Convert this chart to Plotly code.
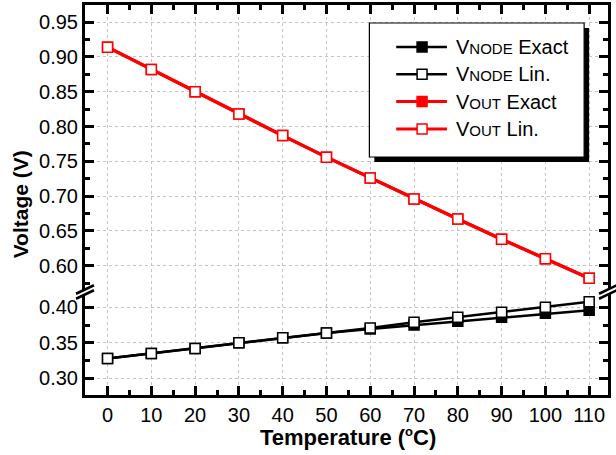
import plotly.graph_objects as go

# ---------------- data ----------------
temps = [0, 10, 20, 30, 40, 50, 60, 70, 80, 90, 100, 110]
vnode_exact = [0.328, 0.335, 0.342, 0.350, 0.357, 0.364, 0.3695, 0.375, 0.3805, 0.386, 0.3915, 0.396]
vnode_lin = [0.328, 0.335, 0.342, 0.350, 0.357, 0.364, 0.371, 0.379, 0.386, 0.393, 0.400, 0.408]
vout_exact = [0.914, 0.882, 0.850, 0.818, 0.787, 0.756, 0.726, 0.696, 0.667, 0.638, 0.610, 0.582]
vout_lin = [0.914, 0.882, 0.850, 0.818, 0.787, 0.756, 0.726, 0.696, 0.667, 0.638, 0.610, 0.582]
x_ticks = [0, 10, 20, 30, 40, 50, 60, 70, 80, 90, 100, 110]
series_names = ["V|NODE| Exact", "V|NODE| Lin.", "V|OUT| Exact", "V|OUT| Lin."]
series_colors = ["black", "black", "#ff0000", "#ff0000"]
series_filled = [True, False, True, False]

# ---------------- geometry (pixels) ----------------
W, H = 616, 455
L, R, T, B = 85, 611, 5, 395
BREAK = 292
pw, ph = R - L, B - T


def px(x):
    return (x - L) / pw


def py(y):
    return (B - y) / ph


split = py(BREAK)


def fmt_name(n):
    a, b, c = n.split("|")
    return a + "<span style='font-size:15px'>" + b + "</span>" + c


fig = go.Figure()
series = [(vnode_exact, "x", "y"), (vnode_lin, "x", "y"),
          (vout_exact, "x2", "y2"), (vout_lin, "x2", "y2")]
for i, (vals, xa, ya) in enumerate(series):
    col = series_colors[i]
    fig.add_trace(go.Scatter(
        x=temps, y=vals, name=fmt_name(series_names[i]), xaxis=xa, yaxis=ya,
        mode="lines+markers", showlegend=False,
        line=dict(color=col, width=3.2 if col != "black" else 2.5),
        marker=dict(symbol="square", size=10,
                    color=col if series_filled[i] else "white",
                    line=dict(color=col, width=1.5))))

tickfont = dict(family="Liberation Sans, Arial", size=20, color="black")
grid = dict(showgrid=True, gridcolor="#c4c4c4", griddash="dot", gridwidth=1)
xrange = [-5.15, 114.3]
common_x = dict(range=xrange, tickmode="array", tickvals=x_ticks, ticks="inside",
                ticklen=9, tickwidth=3, tickcolor="black", showline=True, linewidth=3,
                linecolor="black", zeroline=False, tickfont=tickfont,
                minor=dict(dtick=5, tick0=0, ticks="inside", ticklen=5, tickwidth=3,
                           tickcolor="black", showgrid=False), **grid)
common_y = dict(dtick=0.05, tick0=0, tickformat=".2f", ticks="inside", ticklen=9,
                tickwidth=3, tickcolor="black", showline=True, linewidth=3,
                linecolor="black", mirror="ticks", zeroline=False, tickfont=tickfont,
                minor=dict(dtick=0.025, tick0=0, ticks="inside", ticklen=5, tickwidth=3,
                           tickcolor="black", showgrid=False), **grid)

fig.update_layout(
    width=W, height=H,
    margin=dict(l=L, r=W - R, t=T, b=H - B),
    paper_bgcolor="white", plot_bgcolor="white",
    xaxis=dict(anchor="y", domain=[0, 1], **common_x),
    xaxis2=dict(anchor="y2", domain=[0, 1], matches="x", side="top",
                showticklabels=False, **common_x),
    yaxis=dict(anchor="x", domain=[0, split], range=[0.2765, 0.4216], **common_y),
    yaxis2=dict(anchor="x2", domain=[split, 1], range=[0.5622, 0.9746], **common_y),
    showlegend=False,
)

shapes = []


def brk(cx, cy):
    out = []
    pts = [(cx - 9, cy + 2.5 + 4.25), (cx + 9, cy + 2.5 - 4.25),
           (cx + 9, cy - 2.5 - 4.25), (cx - 9, cy - 2.5 + 4.25)]
    path = "M " + " L ".join(f"{px(a)},{py(b)}" for a, b in pts) + " Z"
    out.append(dict(type="path", xref="paper", yref="paper", path=path,
                    fillcolor="white", line=dict(width=0), layer="above"))
    for off in (-2.5, 2.5):
        out.append(dict(type="line", xref="paper", yref="paper", layer="above",
                        x0=px(cx - 9), y0=py(cy + off + 4.25),
                        x1=px(cx + 9), y1=py(cy + off - 4.25),
                        line=dict(color="black", width=2.5)))
    return out


shapes += brk(L, BREAK)
shapes += brk(R, BREAK)

# ---- legend box (shadow + box) ----
LX0, LY0, LX1, LY1 = 371, 23, 587, 157
shapes.append(dict(type="rect", xref="paper", yref="paper", layer="above",
                   x0=px(LX0 + 5), x1=px(LX1 + 5), y0=py(LY1 + 5), y1=py(LY0 + 5),
                   fillcolor="black", line=dict(width=0)))
shapes.append(dict(type="rect", xref="paper", yref="paper", layer="above",
                   x0=px(LX0), x1=px(LX1), y0=py(LY1), y1=py(LY0),
                   fillcolor="white", line=dict(color="black", width=1.2)))
rows = [47, 74.3, 101.6, 129]
for i, ry in enumerate(rows):
    col = series_colors[i]
    shapes.append(dict(type="line", xref="paper", yref="paper", layer="above",
                       x0=px(398), x1=px(449), y0=py(ry), y1=py(ry),
                       line=dict(color=col, width=3 if col != "black" else 2.5)))
    shapes.append(dict(type="rect", xref="paper", yref="paper", layer="above",
                       x0=px(419), x1=px(429), y0=py(ry + 5), y1=py(ry - 5),
                       fillcolor=col if series_filled[i] else "white",
                       line=dict(color=col, width=1.5)))
    fig.add_annotation(text=fmt_name(series_names[i]), xref="paper", yref="paper",
                       x=px(456), y=py(ry), xanchor="left", yanchor="middle",
                       showarrow=False,
                       font=dict(family="Liberation Sans, Arial", size=20, color="black"))

fig.update_layout(shapes=shapes)

fig.add_annotation(text="<b>Voltage (V)</b>", xref="paper", yref="paper", x=px(20), y=py(204),
                   showarrow=False, textangle=-90, xanchor="center", yanchor="middle",
                   font=dict(family="Liberation Sans, Arial", size=21, color="black"))
fig.add_annotation(text="<b>Temperature (<sup><span style='font-size:13px'>o</span></sup>C)</b>",
                   xref="paper", yref="paper",
                   x=px(350), y=py(437), showarrow=False, xanchor="center", yanchor="middle",
                   font=dict(family="Liberation Sans, Arial", size=22, color="black"))

fig.write_html("out.html")
